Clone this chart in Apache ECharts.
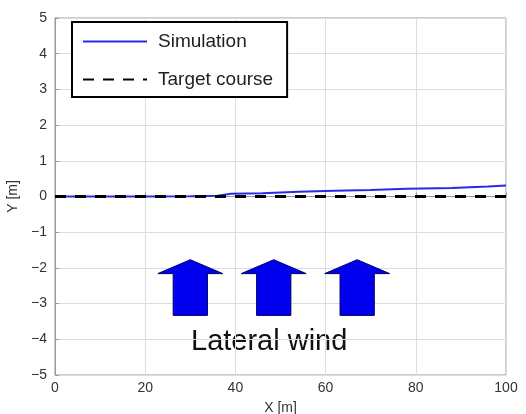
<!DOCTYPE html>
<html>
<head>
<meta charset="utf-8">
<script src="https://cdn.jsdelivr.net/npm/echarts@6/dist/echarts.min.js"></script>
<style>
  html, body { margin: 0; padding: 0; background: #fff; }
  #chart { width: 526px; height: 414px; }
</style>
</head>
<body>
<div id="chart"></div>
<script>
// simulated path (x, y)
const simX = [0, 10, 20, 30, 36, 39, 46, 54, 62, 70, 78, 88, 96, 100];
const simY = [0, 0, 0, 0.01, 0.02, 0.08, 0.09, 0.13, 0.16, 0.18, 0.22, 0.24, 0.28, 0.31];
// target course
const targetX = [0, 100];
const targetY = [0, 0];
// wind arrows: centre x positions
const arrowX = [30, 48.5, 67];

const chart = echarts.init(document.getElementById('chart'));

const font = 'Liberation Sans, Arial, sans-serif';

const option = {
  animation: false,
  grid: {
    left: 55, right: 20, top: 18, bottom: 39,
    outerBoundsMode: 'none',
    show: true, borderColor: '#999', borderWidth: 1
  },
  legend: {
    orient: 'vertical',
    left: 72, top: 22,
    backgroundColor: '#fff',
    borderColor: '#000',
    borderWidth: 2,
    padding: [10, 14, 8, 10],
    itemWidth: 64,
    itemHeight: 14,
    itemGap: 19,
    itemStyle: { opacity: 0 },
    textStyle: { fontFamily: font, fontSize: 19, color: '#222', padding: [0, 0, 0, 6] },
    data: ['Simulation', 'Target course']
  },
  xAxis: {
    type: 'value', min: 0, max: 100, interval: 20,
    name: 'X [m]', nameLocation: 'middle', nameGap: 26,
    nameTextStyle: { fontFamily: font, fontSize: 14, color: '#333' },
    axisLine: { lineStyle: { color: '#999' } },
    axisTick: { inside: true, length: 4, lineStyle: { color: '#999' } },
    axisLabel: { fontFamily: font, fontSize: 14, color: '#333', margin: 6 },
    splitLine: { lineStyle: { color: '#ddd' } }
  },
  yAxis: {
    type: 'value', min: -5, max: 5, interval: 1,
    name: 'Y [m]', nameLocation: 'middle', nameGap: 21,
    nameTextStyle: { fontFamily: font, fontSize: 14, color: '#333' },
    axisLine: { show: true, lineStyle: { color: '#999' } },
    axisTick: { show: true, inside: true, length: 4, lineStyle: { color: '#999' } },
    axisLabel: {
      fontFamily: font, fontSize: 14, color: '#333', margin: 8,
      formatter: v => String(v).replace('-', '\u2212')
    },
    splitLine: { lineStyle: { color: '#ddd' } }
  },
  series: [
    {
      name: 'Wind',
      type: 'custom',
      data: arrowX.map(x => [x]),
      silent: true,
      z: 1,
      renderItem: function (params, api) {
        const cx = api.value(0);
        const tip = api.coord([cx, -1.77]);
        const headL = api.coord([cx - 7.2, -2.16]);
        const headR = api.coord([cx + 7.2, -2.16]);
        const shaftL = api.coord([cx - 3.8, -2.16]);
        const shaftR = api.coord([cx + 3.8, -2.16]);
        const botL = api.coord([cx - 3.8, -3.33]);
        const botR = api.coord([cx + 3.8, -3.33]);
        return {
          type: 'polygon',
          shape: { points: [tip, headR, shaftR, botR, botL, shaftL, headL] },
          style: { fill: '#0000ee', stroke: '#000066', lineWidth: 1 }
        };
      }
    },
    {
      name: 'Simulation',
      type: 'line',
      data: simX.map((x, i) => [x, simY[i]]),
      showSymbol: false,
      symbol: 'none',
      z: 3,
      lineStyle: { color: '#2a2ae6', width: 2 },
      itemStyle: { color: '#2a2ae6' }
    },
    {
      name: 'Target course',
      type: 'line',
      data: targetX.map((x, i) => [x, targetY[i]]),
      showSymbol: false,
      symbol: 'none',
      z: 4,
      lineStyle: { color: '#000', width: 3, type: [11, 9] },
      itemStyle: { color: '#000' }
    }
  ],
  graphic: [
    {
      type: 'text',
      left: 191, top: 327,
      silent: true,
      style: { text: 'Lateral wind', fontFamily: font, fontSize: 29, fill: '#111' }
    }
  ]
};

chart.setOption(option);
</script>
</body>
</html>
